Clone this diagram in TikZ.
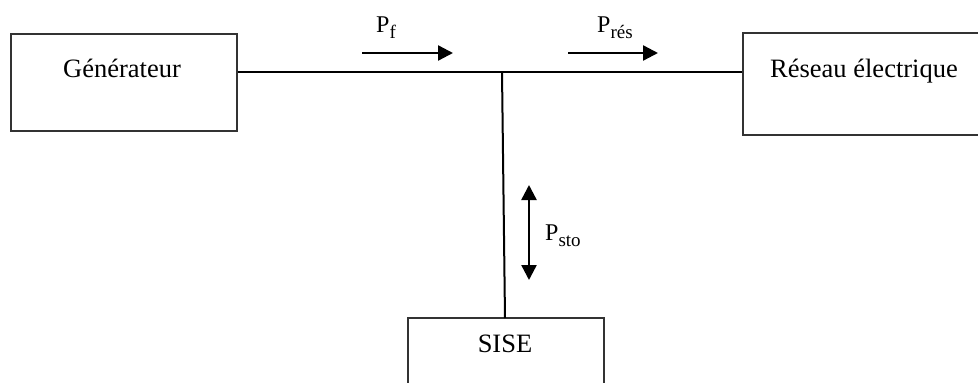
\documentclass[tikz,border=0pt]{standalone}
\usepackage{fontspec}
\setmainfont{Liberation Serif}
\usetikzlibrary{arrows.meta}
\newcommand\sbx[1]{\raisebox{-6pt}{\fontsize{19}{20}\selectfont #1}}
\begin{document}
\begin{tikzpicture}[x=1pt,y=-1pt,
 blk/.style={draw=black!80,line width=1.3pt,rectangle,inner sep=0pt},
 lbl/.style={anchor=base,inner sep=0pt,font=\fontsize{26.5}{30}\selectfont},
 wire/.style={line width=2pt},
 flow/.style={line width=2.4pt,-{Triangle[length=15pt,width=15pt]}},
 flow2/.style={line width=2.4pt,{Triangle[length=15pt,width=15pt]}-{Triangle[length=15pt,width=15pt]}},
 pl/.style={anchor=base west,inner sep=0pt,font=\fontsize{24}{28}\selectfont}]
\useasboundingbox (0,0) rectangle (978,383);
\clip (0,0) rectangle (978,383);
\node[blk,minimum width=226pt,minimum height=97pt] (gen) at (124,82.5) {};
\node[blk,minimum width=252pt,minimum height=102pt] (res) at (869,84) {};
\node[blk,minimum width=196pt,minimum height=92pt] (sise) at (506,364) {};
\node[lbl] (tgen) at (122,77) {Générateur};
\node[lbl] (tres) at (864,77) {Réseau électrique};
\node[lbl] (tsise) at (505,352) {SISE};
\coordinate (j) at (502,72);
\coordinate (sb) at (505,318);
\draw[wire] (gen.east |- j) -- (res.west |- j);
\draw[wire] (j) -- (sb);
\coordinate (fa) at (362,53);
\coordinate (fb) at (453,53);
\coordinate (ra) at (568,53);
\coordinate (rb) at (658,53);
\coordinate (sa) at (529,185);
\coordinate (sc) at (529,280);
\draw[flow] (fa) -- (fb);
\draw[flow] (ra) -- (rb);
\draw[flow2] (sa) -- (sc);
\node[pl] (pf) at (376,32) {P\sbx{f}};
\node[pl] (pres) at (597,32) {P\sbx{rés}};
\node[pl] (psto) at (545,240) {P\sbx{sto}};
\end{tikzpicture}
\end{document}
